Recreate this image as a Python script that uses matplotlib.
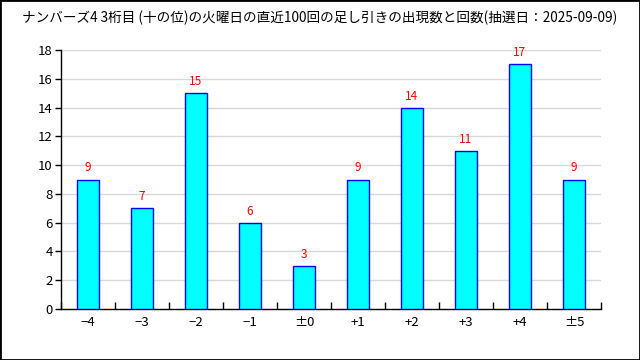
import matplotlib
matplotlib.use("Agg")
import matplotlib.pyplot as plt
from matplotlib.patches import Rectangle
import numpy as np

plt.rcParams['font.family'] = ['Noto Sans CJK JP', 'DejaVu Sans']

title = "ナンバーズ4 3桁目 (十の位)の火曜日の直近100回の足し引きの出現数と回数(抽選日：2025-09-09)"
categories = ["−4", "−3", "−2", "−1", "±0", "+1", "+2", "+3", "+4", "±5"]
counts = [9, 7, 15, 6, 3, 9, 14, 11, 17, 9]

fig = plt.figure(figsize=(6.4, 3.6), dpi=100)
ax = fig.add_axes([61/640, 51/360, 540/640, 259/360])

x = np.arange(len(categories))
ax.bar(x, counts, width=0.4, color='#00ffff', edgecolor='#0000ff', linewidth=1, zorder=3)
for xi, v in zip(x, counts):
    ax.text(xi, v + 0.35, str(v), ha='center', va='bottom', color='#ff0000', fontsize=8.5)

ax.set_xlim(-0.5, len(categories) - 0.5)
ax.set_ylim(0, 18)
ax.set_yticks(np.arange(0, 19, 2))
ax.set_xticks(x)
ax.set_xticklabels(categories, fontsize=9.5)
ax.set_xticks(np.arange(-0.5, len(categories), 1), minor=True)
ax.tick_params(axis='x', which='major', length=0, pad=5)
ax.tick_params(axis='x', which='minor', direction='in', length=5, width=1, color='black')
ax.tick_params(axis='y', which='major', direction='out', length=4, width=1, labelsize=9.5, pad=2)
for s in ['top', 'right']:
    ax.spines[s].set_visible(False)
ax.spines['left'].set_linewidth(1)
ax.spines['bottom'].set_linewidth(1)
for yv in np.arange(2, 19, 2):
    ax.axhline(yv, color='#d8d8d8', linewidth=1, zorder=1)

fig.text(22/640, 1 - 18/360, title, fontsize=9.8, ha='left', va='center')
fig.patches.append(Rectangle((0, 0), 1, 1, transform=fig.transFigure, fill=False,
                             edgecolor='black', linewidth=2))
fig.savefig("out.png", dpi=100)
